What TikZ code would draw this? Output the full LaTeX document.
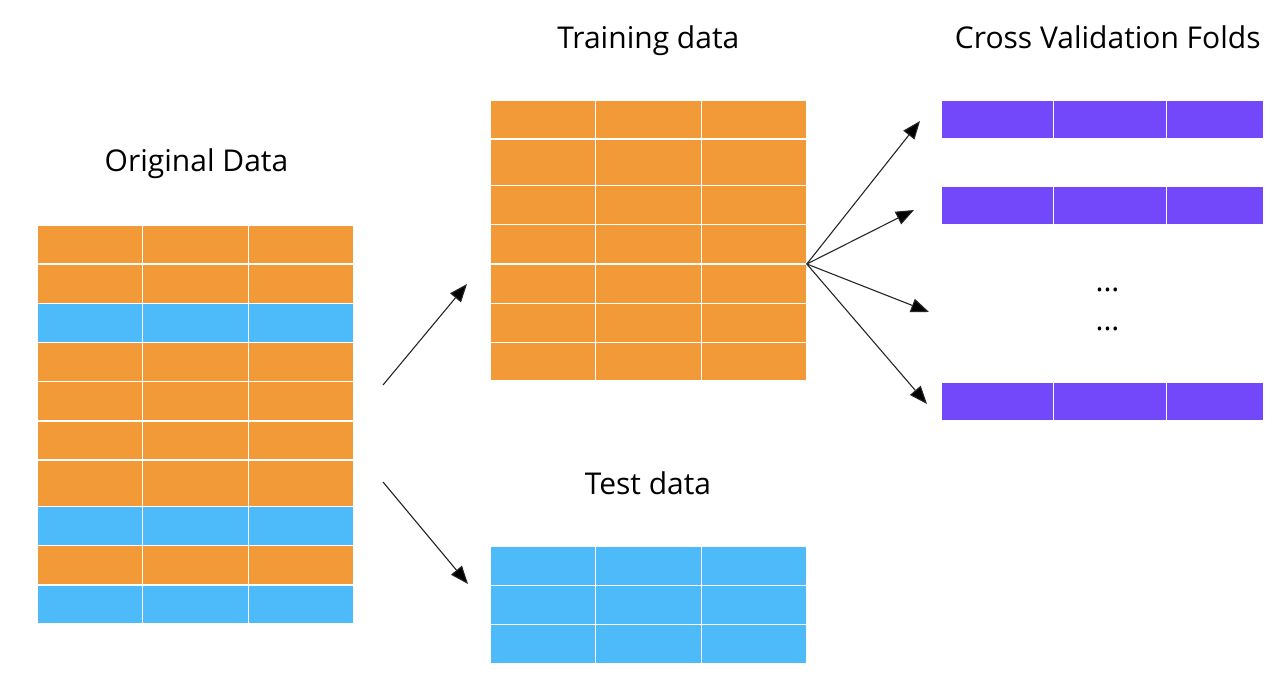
\documentclass[tikz,border=0pt]{standalone}
\usepackage{fontspec}
\setmainfont{Open Sans}
\usetikzlibrary{arrows.meta}

\definecolor{trainorange}{RGB}{242,153,56}
\definecolor{testblue}{RGB}{77,187,249}
\definecolor{foldpurple}{RGB}{114,72,250}

\begin{document}
\begin{tikzpicture}[x=1pt,y=-1pt,
    cell/.style={draw=white, line width=1.2pt, inner sep=0pt, outer sep=0pt,
      anchor=north west},
    title/.style={font=\fontsize{30}{36}\selectfont, anchor=base, inner sep=0pt},
    arr/.style={-{Triangle[length=18pt,width=14pt,fill=black]}, line width=1.1pt,
      draw=black!85}]
  \useasboundingbox (0,0) rectangle (1288,690);
  %% original data
  \node[title] (orig-title) at (196.5,171.7) {Original Data};
  \begin{scope}[shift={(37.3,225.3)}]
    \foreach \y/\rh/\col [count=\r] in {0/38.7/trainorange, 38.7/39.3/trainorange,
        78/39/testblue, 117/39.4/trainorange, 156.4/39.3/trainorange,
        195.7/39/trainorange, 234.7/46.3/trainorange, 281/39.4/testblue,
        320.4/39.3/trainorange, 359.7/38.7/testblue}
      \foreach \x [count=\k] in {0,105.5,211}
        \node[cell, fill=\col, minimum width=105.5pt, minimum height=\rh pt]
          (orig-\r-\k) at (\x,\y) {};
  \end{scope}
  %% training data
  \node[title] (train-title) at (648.3,48.3) {Training data};
  \begin{scope}[shift={(490.3,100.3)}]
    \foreach \y/\rh [count=\r] in {0/38.7, 38.7/46.7, 85.4/39, 124.4/39.3,
        163.7/39.3, 203/39.4, 242.4/38.3}
      \foreach \x [count=\k] in {0,105.5,211}
        \node[cell, fill=trainorange, minimum width=105.5pt, minimum height=\rh pt]
          (train-\r-\k) at (\x,\y) {};
  \end{scope}
  %% test data
  \node[title] (test-title) at (648,494) {Test data};
  \begin{scope}[shift={(490.3,546)}]
    \foreach \y/\rh [count=\r] in {0/39.3, 39.3/39, 78.3/39}
      \foreach \x [count=\k] in {0,105.5,211}
        \node[cell, fill=testblue, minimum width=105.5pt, minimum height=\rh pt]
          (test-\r-\k) at (\x,\y) {};
  \end{scope}
  %% cross validation folds
  \node[title] (cv-title) at (1107.8,48.3) {Cross Validation Folds};
  \begin{scope}[shift={(941,0)}]
    \foreach \y [count=\r] in {100.3,186.3,382.3}
      \foreach \x/\cw [count=\k] in {0/112.3, 112.3/113, 225.3/97.7}
        \node[cell, fill=foldpurple, minimum width=\cw pt, minimum height=38.2pt]
          (fold-\r-\k) at (\x,\y) {};
  \end{scope}
  \node[title] (dots-a) at (1107.5,291.5) {...};
  \node[title] (dots-b) at (1107.5,330.5) {...};
  %% arrows
  \coordinate (split-a) at (383,385);
  \coordinate (split-b) at (383,482);
  \coordinate (to-train) at (467,284);
  \coordinate (to-test) at (468,584);
  \draw[arr] (split-a) -- (to-train);
  \draw[arr] (split-b) -- (to-test);
  \coordinate (fan) at (train-4-3.south east);
  \foreach \tx/\ty [count=\i] in {920/121, 914/210, 929/312, 927/404}{
    \coordinate (to-fold-\i) at (\tx,\ty);
    \draw[arr] (fan) -- (to-fold-\i);
  }
\end{tikzpicture}
\end{document}
